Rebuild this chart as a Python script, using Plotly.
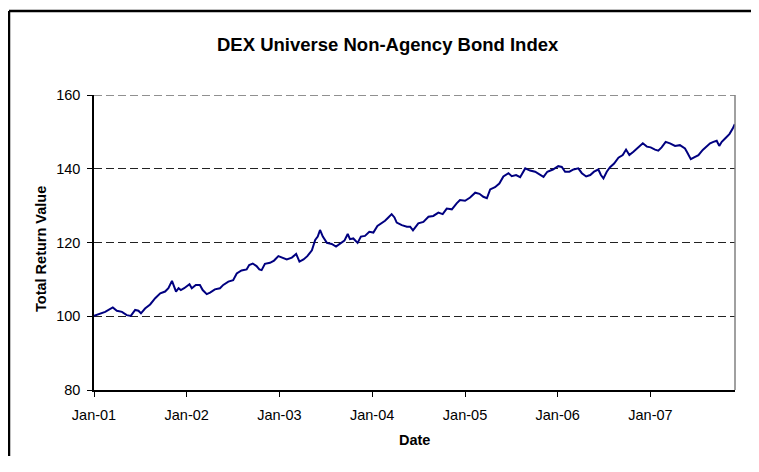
import plotly.graph_objects as go

dates = [
    "2001-01-01", "2001-01-25", "2001-02-14", "2001-03-16", "2001-04-01", "2001-04-21",
    "2001-05-10", "2001-05-26", "2001-06-12", "2001-06-25", "2001-07-05", "2001-07-21",
    "2001-08-10", "2001-08-30", "2001-09-19", "2001-10-08", "2001-10-21", "2001-11-04",
    "2001-11-10", "2001-11-20", "2001-11-30", "2001-12-09", "2001-12-22", "2002-01-12",
    "2002-01-21", "2002-02-06", "2002-02-22", "2002-03-05", "2002-03-21", "2002-04-03",
    "2002-04-22", "2002-05-12", "2002-05-25", "2002-06-14", "2002-07-03", "2002-07-17",
    "2002-08-05", "2002-08-25", "2002-09-04", "2002-09-18", "2002-10-03", "2002-10-14",
    "2002-10-23", "2002-11-05", "2002-11-25", "2002-12-11", "2002-12-28", "2003-01-15",
    "2003-01-30", "2003-02-19", "2003-03-08", "2003-03-21", "2003-04-06", "2003-04-21",
    "2003-05-09", "2003-05-22", "2003-06-01", "2003-06-10", "2003-06-21", "2003-07-07",
    "2003-07-26", "2003-08-12", "2003-08-28", "2003-09-14", "2003-09-27", "2003-10-06",
    "2003-10-19", "2003-11-05", "2003-11-18", "2003-12-04", "2003-12-21", "2004-01-06",
    "2004-01-22", "2004-02-08", "2004-02-21", "2004-03-05", "2004-03-18", "2004-03-29",
    "2004-04-07", "2004-04-27", "2004-05-17", "2004-05-30", "2004-06-10", "2004-07-01",
    "2004-07-21", "2004-08-10", "2004-08-29", "2004-09-18", "2004-10-05", "2004-10-21",
    "2004-11-10", "2004-11-29", "2004-12-12", "2005-01-01", "2005-01-21", "2005-02-10",
    "2005-02-27", "2005-03-14", "2005-03-28", "2005-04-10", "2005-04-29", "2005-05-16",
    "2005-06-01", "2005-06-21", "2005-07-04", "2005-07-21", "2005-08-06", "2005-08-26",
    "2005-09-14", "2005-10-04", "2005-10-24", "2005-11-06", "2005-11-21", "2005-12-13",
    "2006-01-03", "2006-01-17", "2006-01-30", "2006-02-16", "2006-03-04", "2006-03-23",
    "2006-04-06", "2006-04-23", "2006-05-09", "2006-05-24", "2006-06-10", "2006-06-20",
    "2006-06-30", "2006-07-13", "2006-07-26", "2006-08-11", "2006-08-28", "2006-09-14",
    "2006-09-27", "2006-10-10", "2006-10-26", "2006-11-15", "2006-12-02", "2006-12-18",
    "2007-01-02", "2007-01-19", "2007-02-01", "2007-02-14", "2007-03-02", "2007-03-19",
    "2007-04-08", "2007-04-27", "2007-05-17", "2007-05-26", "2007-06-09", "2007-06-22",
    "2007-07-09", "2007-07-26", "2007-08-11", "2007-08-24", "2007-09-06", "2007-09-19",
    "2007-09-29", "2007-10-09", "2007-10-22", "2007-11-08", "2007-11-21", "2007-11-29",
]

values = [
    100.1, 100.6, 101.2, 102.4, 101.5, 101.2,
    100.3, 100.1, 101.7, 101.5, 100.8, 102.1,
    103.2, 104.9, 106.2, 106.7, 107.6, 109.6,
    108.6, 106.7, 107.6, 107.1, 107.6, 108.7,
    107.6, 108.5, 108.5, 107.1, 106.0, 106.4,
    107.3, 107.6, 108.5, 109.4, 109.8, 111.6,
    112.4, 112.7, 113.9, 114.3, 113.6, 112.7,
    112.5, 114.2, 114.5, 115.1, 116.3, 115.7,
    115.4, 115.9, 116.9, 114.8, 115.4, 116.3,
    117.9, 120.7, 121.6, 123.4, 121.6, 119.9,
    119.6, 118.9, 119.8, 120.5, 122.3, 120.9,
    121.1, 119.9, 121.6, 121.8, 122.9, 122.7,
    124.5, 125.2, 125.9, 126.8, 127.7, 126.8,
    125.4, 124.7, 124.3, 124.3, 123.3, 125.2,
    125.6, 127.0, 127.2, 128.1, 127.7, 129.2,
    129.0, 130.6, 131.5, 131.3, 132.2, 133.5,
    133.2, 132.4, 132.0, 134.4, 135.0, 136.0,
    137.9, 138.8, 138.0, 138.3, 137.7, 140.1,
    139.5, 139.2, 138.3, 137.8, 139.2, 139.8,
    140.7, 140.5, 139.2, 139.2, 139.8, 140.1,
    138.8, 137.9, 138.3, 139.2, 139.8, 138.3,
    137.4, 139.2, 140.4, 141.4, 143.0, 143.7,
    145.2, 143.7, 144.6, 145.8, 146.9, 146.0,
    145.8, 145.2, 144.9, 145.8, 147.3, 146.9,
    146.2, 146.4, 145.5, 144.4, 142.6, 143.1,
    143.7, 145.1, 146.0, 146.9, 147.3, 147.6,
    146.2, 147.3, 148.2, 149.4, 150.9, 152.1,
]

title_text = "DEX Universe Non-Agency Bond Index"
x_title = "Date"
y_title = "Total Return Value"
y_ticks = [80, 100, 120, 140, 160]

FONT = "Liberation Sans, Arial, sans-serif"

fig = go.Figure()
fig.add_trace(go.Scatter(
    x=dates, y=values, mode="lines",
    line=dict(color="#000080", width=2),
    showlegend=False, hoverinfo="skip",
))

# page body has an 8px margin; size the figure so the page does not overflow
fig.update_layout(
    width=743, height=448,
    margin=dict(l=86, r=16, t=87, b=66),
    paper_bgcolor="white", plot_bgcolor="white",
    font=dict(family=FONT, size=14, color="black"),
    showlegend=False,
)

fig.update_xaxes(
    type="date",
    range=["2001-01-01", "2007-11-30"],
    tickformat="%b-%y", dtick="M12", tick0="2001-01-01",
    ticks="outside", ticklen=5, tickwidth=1, tickcolor="black",
    ticklabelstandoff=6,
    showline=True, linecolor="black", linewidth=1.5,
    showgrid=False, zeroline=False,
    tickfont=dict(family=FONT, size=14.5),
)

fig.update_yaxes(
    range=[80, 160], tickvals=y_ticks,
    ticks="outside", ticklen=5, tickwidth=1, tickcolor="black",
    ticklabelstandoff=4,
    showline=True, linecolor="black", linewidth=1.5,
    showgrid=True, gridcolor="#222222", gridwidth=1, griddash="8px,4px",
    zeroline=False,
    tickfont=dict(family=FONT, size=14.5),
)

# top gridline at 160 (dashed) and right border of plot area
fig.add_shape(type="line", xref="paper", yref="y", x0=0, x1=1, y0=160, y1=160,
              line=dict(color="#222222", width=1, dash="8px,4px"))
fig.add_shape(type="line", xref="paper", yref="paper", x0=1, x1=1, y0=0, y1=1,
              line=dict(color="#808080", width=1.5))
# outer chart border: only its left and top edges are inside the frame
fig.add_shape(type="line", xref="paper", yref="paper",
              x0=-0.1326, x1=-0.1326, y0=-0.35, y1=1.2847,
              line=dict(color="black", width=2.5), layer="above")
fig.add_shape(type="line", xref="paper", yref="paper",
              x0=-0.1326, x1=1.1, y0=1.2847, y1=1.2847,
              line=dict(color="black", width=2.5), layer="above")

fig.add_annotation(text="<b>" + title_text + "</b>", xref="paper", yref="paper",
                   x=0.4587, y=1.1695, xanchor="center", yanchor="middle",
                   showarrow=False, font=dict(family=FONT, size=18.5, color="black"))
fig.add_annotation(text="<b>" + x_title + "</b>", xref="paper", yref="paper",
                   x=0.5, y=-0.1695, xanchor="center", yanchor="middle",
                   showarrow=False, font=dict(family=FONT, size=14.5, color="black"))
fig.add_annotation(text="<b>" + y_title + "</b>", xref="paper", yref="paper",
                   x=-0.0827, y=0.478, xanchor="center", yanchor="middle", textangle=-90,
                   showarrow=False, font=dict(family=FONT, size=14.5, color="black"))

fig.write_html("out.html")
